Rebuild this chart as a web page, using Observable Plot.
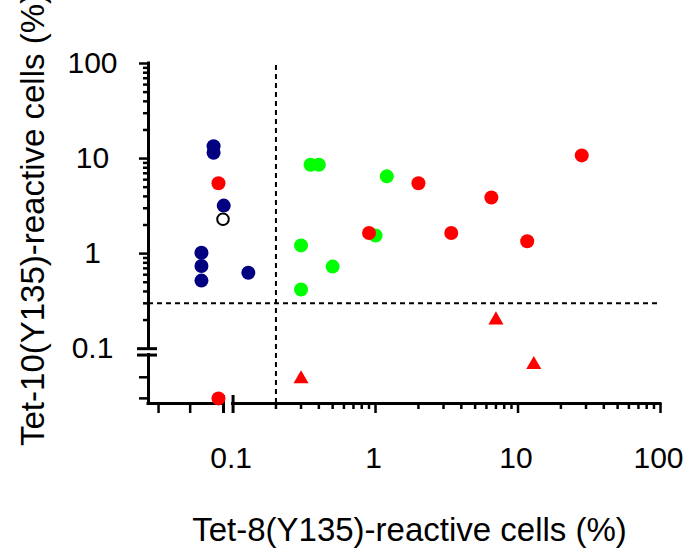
<!DOCTYPE html>
<html><head><meta charset="utf-8">
<script src="https://cdn.jsdelivr.net/npm/d3@7"></script>
<script src="https://cdn.jsdelivr.net/npm/@observablehq/plot@0.6"></script>
<style>body{margin:0;background:#fff;} svg{display:block}</style>
</head><body><div id="chart"></div>
<script>
// ---- data ----
const navyX = [0.073, 0.073, 0.086, 0.060, 0.060, 0.060, 0.128];
const navyY = [13.5, 11.5, 3.2, 1.02, 0.74, 0.52, 0.63];
const openX = [0.085];
const openY = [2.3];
const greenX = [0.35, 0.40, 1.2, 0.30, 1.0, 0.50, 0.30];
const greenY = [8.6, 8.6, 6.5, 1.22, 1.55, 0.73, 0.42];
const redX = [0.079, 0.079, 0.90, 2.0, 3.4, 6.5, 11.6, 28];
const redY = [5.5, 0.030, 1.65, 5.5, 1.65, 3.9, 1.35, 10.8];
const triX = [0.30, 7.0, 12.9];
const triY = [0.048, 0.20, 0.068];

const xThreshold = 0.2, yThreshold = 0.3;
const xDomain = [0.0255, 100], yDomain = [0.0265, 100];
const breakLo = 0.0857, breakHi = 0.1;   // axis break (gap) on both axes

const yMajorTicks = [1, 10, 100];
const yMinorTicks = [0.2,0.3,0.4,0.5,0.6,0.7,0.8,0.9,2,3,4,5,6,7,8,9,20,30,40,50,60,70,80,90];
const yLowTicks = [0.03, 0.05];
const xMajorTicks = [1, 10, 100];
const xMinorTicks = [0.2,0.3,0.4,0.5,0.6,0.7,0.8,0.9,2,3,4,5,6,7,8,9,20,30,40,50,60,70,80,90];
const xLowTicks = [0.03, 0.05];
const yTickLabels = [0.1, 1, 10, 100];
const xTickLabels = [0.1, 1, 10, 100];
const xTitle = "Tet-8(Y135)-reactive cells (%)";
const yTitle = "Tet-10(Y135)-reactive cells (%)";

const navy = "#000080", red = "#ff0000", green = "#00ff00";
const pts = (xs, ys) => xs.map((x, i) => ({x, y: ys[i]}));

// pixel helpers for the decorative break marks
const W = 686, H = 558, mL = 148, mR = 26, mT = 63, mB = 155;
const xAt = p => xDomain[0] * Math.pow(xDomain[1] / xDomain[0], (p - mL) / (W - mR - mL));
const yAt = p => yDomain[0] * Math.pow(yDomain[1] / yDomain[0], (H - mB - p) / (H - mB - mT));

const fmt = d => String(d);
const ax = {stroke: "black", strokeWidth: 3, strokeLinecap: "square"};
const tk = {tickFormat: () => "", label: null, strokeWidth: 2.5};

const chart = Plot.plot({
  width: W, height: H,
  marginLeft: mL, marginRight: mR, marginTop: mT, marginBottom: mB,
  style: {fontFamily: "'Liberation Sans', Arial, sans-serif", background: "white", color: "black"},
  x: {type: "log", domain: xDomain, axis: null},
  y: {type: "log", domain: yDomain, axis: null},
  marks: [
    // threshold lines
    Plot.ruleX([xThreshold], {y1: yDomain[0], y2: yDomain[1], stroke: "black", strokeWidth: 2, strokeDasharray: "5,4"}),
    Plot.ruleY([yThreshold], {x1: xDomain[0], x2: xDomain[1], stroke: "black", strokeWidth: 2, strokeDasharray: "5,4"}),
    // axis lines with breaks
    Plot.ruleX([[yDomain[0], breakLo], [breakHi, yDomain[1]]], {x: () => xDomain[0], y1: d => d[0], y2: d => d[1], ...ax}),
    Plot.ruleY([[xDomain[0], breakLo], [breakHi, xDomain[1]]], {y: () => yDomain[0], x1: d => d[0], x2: d => d[1], ...ax}),
    // break marks
    Plot.ruleY([breakLo, breakHi], {x1: xAt(137), x2: xAt(157), stroke: "black", strokeWidth: 3}),
    Plot.ruleX([breakLo, breakHi], {y1: yAt(413), y2: yAt(395), stroke: "black", strokeWidth: 3}),
    // ticks
    Plot.axisY(yMajorTicks, {anchor: "left", tickSize: 9, ...tk}),
    Plot.axisY(yLowTicks, {anchor: "left", tickSize: 9, ...tk}),
    Plot.axisY(yMinorTicks, {anchor: "left", tickSize: 5, ...tk}),
    Plot.axisX(xMajorTicks, {anchor: "bottom", tickSize: 10, ...tk}),
    Plot.axisX(xLowTicks, {anchor: "bottom", tickSize: 10, ...tk}),
    Plot.axisX(xMinorTicks, {anchor: "bottom", tickSize: 6, ...tk}),
    // tick labels
    Plot.text(yTickLabels, {x: () => xDomain[0], y: d => d, text: fmt, dx: -56, textAnchor: "middle", fontSize: 30, fill: "black"}),
    Plot.text(xTickLabels, {x: d => d, y: () => yDomain[0], text: fmt, dx: -2, dy: 55, textAnchor: "middle", fontSize: 30, fill: "black"}),
    // axis titles
    Plot.text([yTitle], {frameAnchor: "left", rotate: -90, dx: -115, dy: -14, fontSize: 33, fill: "black", textAnchor: "middle"}),
    Plot.text([xTitle], {frameAnchor: "bottom", dx: 5, dy: 137, fontSize: 33, fill: "black", textAnchor: "middle"}),
    // data
    Plot.dot(pts(openX, openY), {x: "x", y: "y", r: 5.8, fill: "white", stroke: "black", strokeWidth: 2}),
    Plot.dot(pts(navyX, navyY), {x: "x", y: "y", r: 7, fill: navy}),
    Plot.dot(pts(greenX, greenY), {x: "x", y: "y", r: 7, fill: green}),
    Plot.dot(pts(redX, redY), {x: "x", y: "y", r: 7, fill: red}),
    Plot.dot(pts(triX, triY), {x: "x", y: "y", r: 5.6, symbol: "triangle", fill: red})
  ]
});
document.getElementById("chart").appendChild(chart);
</script>
</body></html>
